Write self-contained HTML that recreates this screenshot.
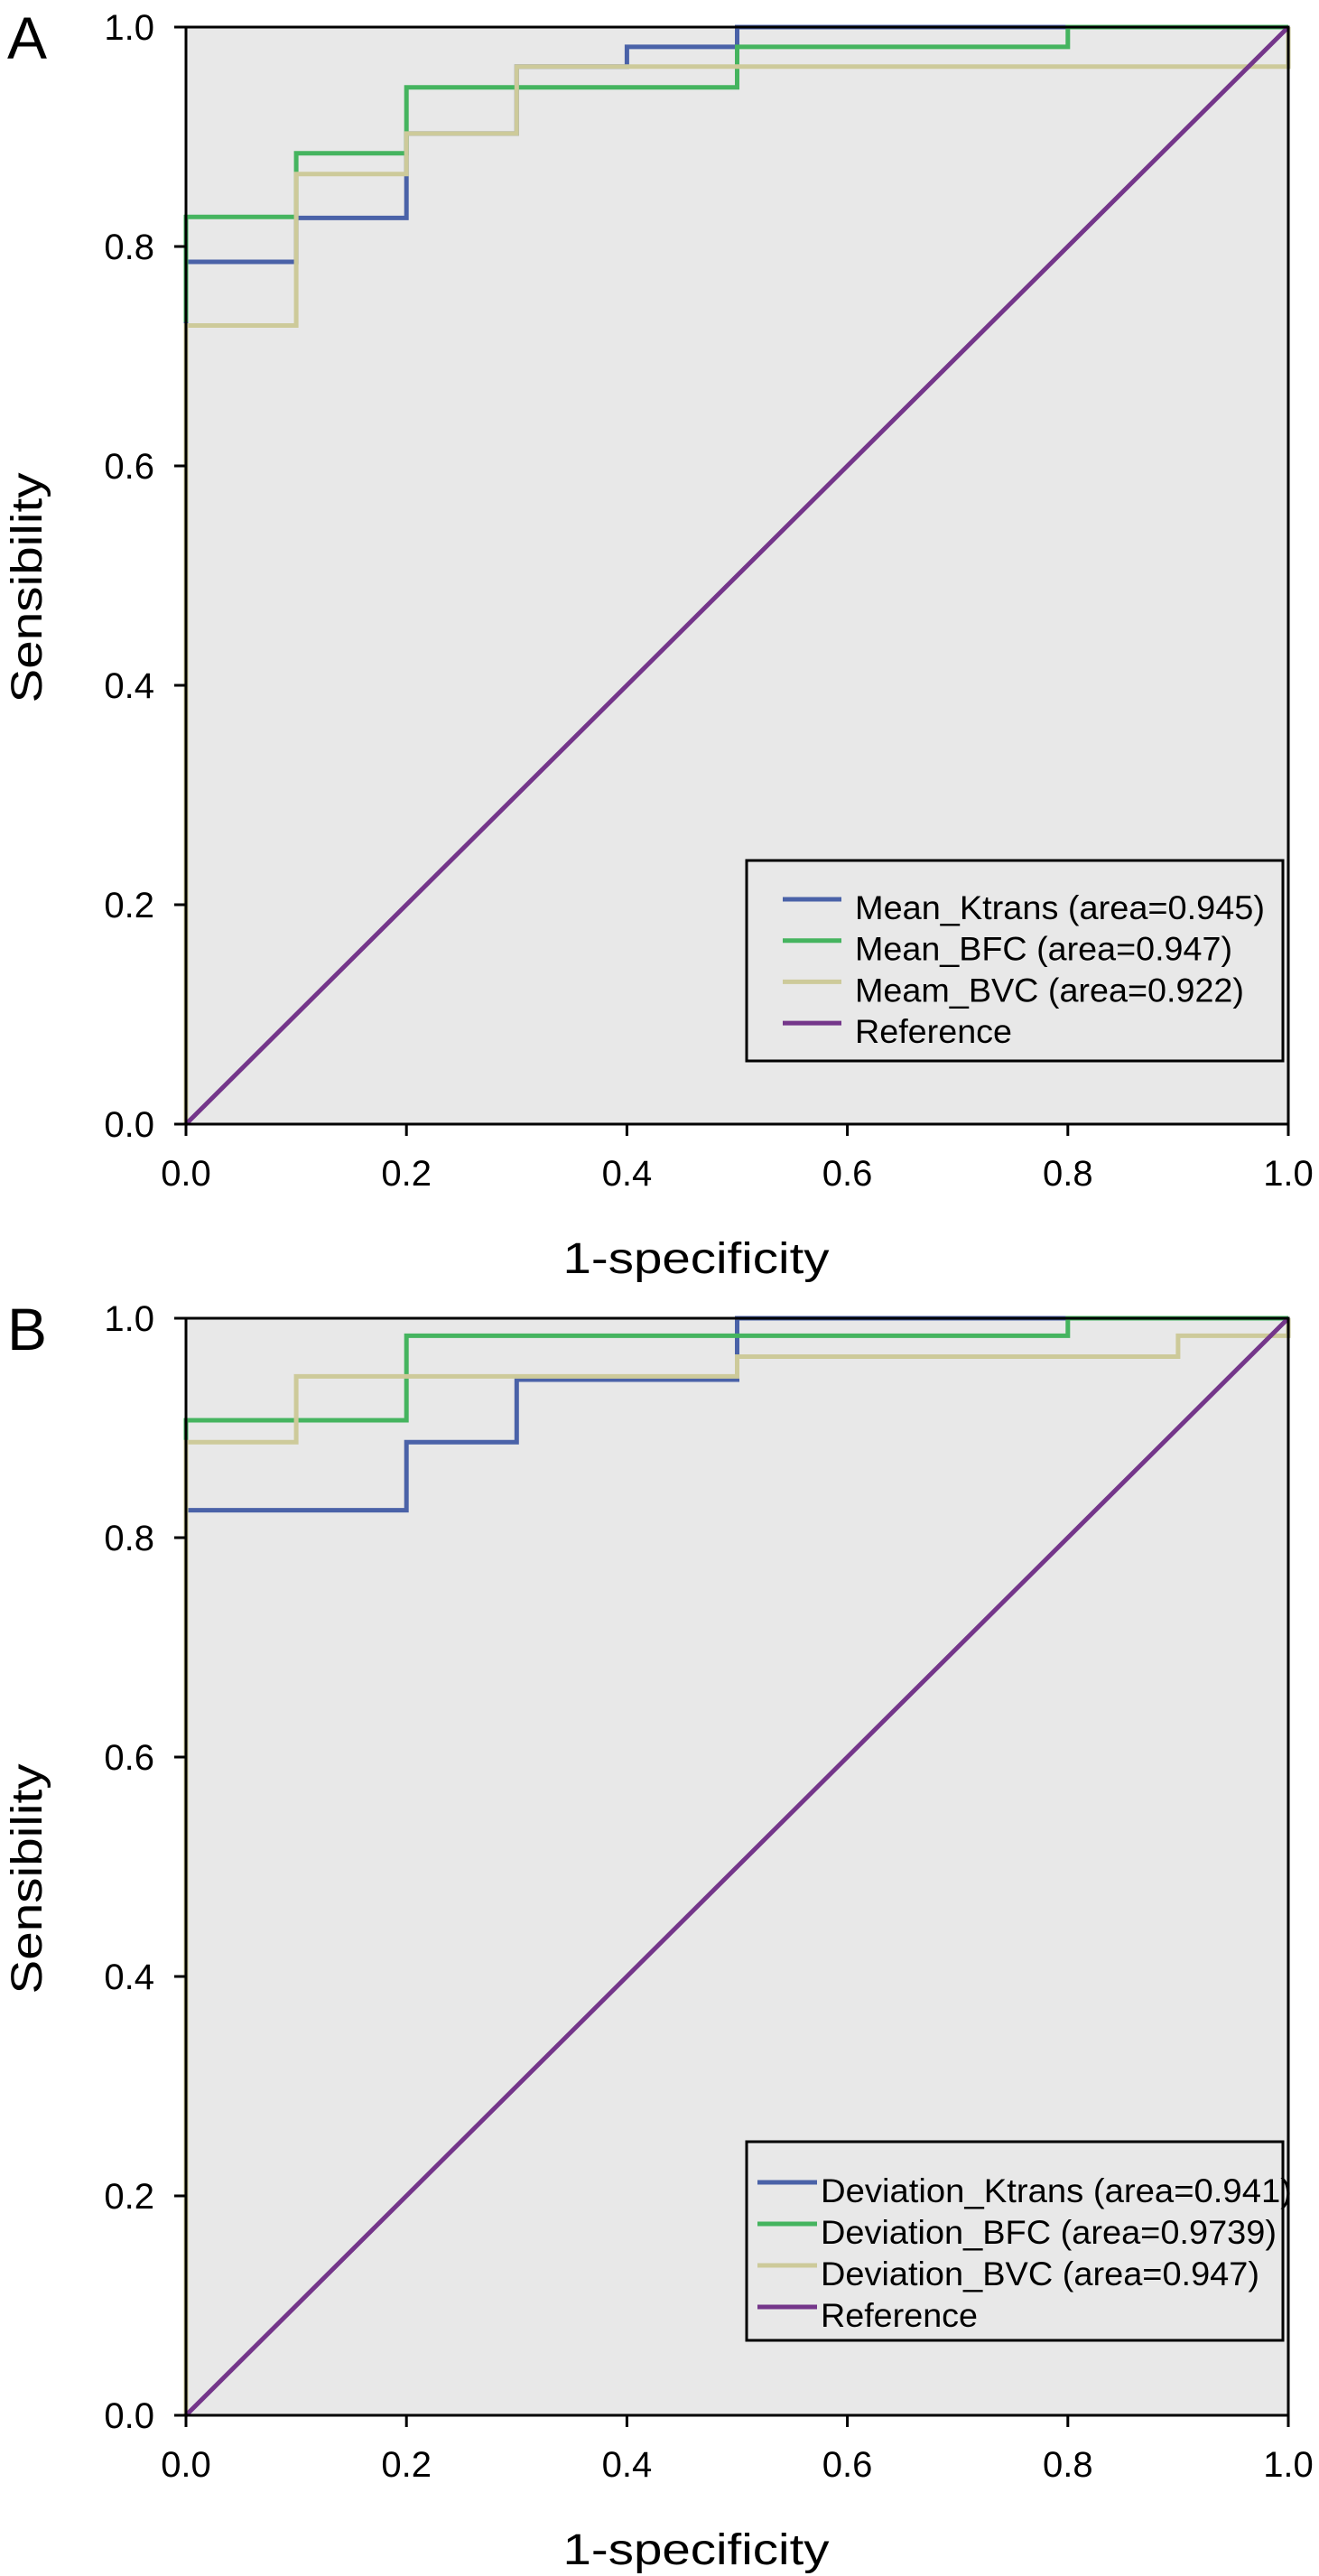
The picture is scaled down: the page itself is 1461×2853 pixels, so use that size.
<!DOCTYPE html>
<html><head><meta charset="utf-8"><style>
html,body{margin:0;padding:0;background:#fff;}
svg{display:block;font-family:"Liberation Sans",Arial,sans-serif;}
</style></head><body>
<svg id="fig" width="1461" height="2853" viewBox="0 0 1461 2853" xmlns="http://www.w3.org/2000/svg"></svg>
<script>
// ---- data ----
const xTicks = [0.0, 0.2, 0.4, 0.6, 0.8, 1.0];
const yTicks = [0.0, 0.2, 0.4, 0.6, 0.8, 1.0];
const tickLabels = ["0.0","0.2","0.4","0.6","0.8","1.0"];

const aKtransFpr = [0,0,0.1,0.1,0.2,0.2,0.3,0.3,0.4,0.4,0.5,0.5,1];
const aKtransTpr = [0,0.786,0.786,0.826,0.826,0.903,0.903,0.964,0.964,0.982,0.982,1,1];
const aBfcFpr = [0,0,0.1,0.1,0.2,0.2,0.5,0.5,0.8,0.8,1];
const aBfcTpr = [0.731,0.827,0.827,0.885,0.885,0.945,0.945,0.982,0.982,1,1];
const aBvcFpr = [0,0,0.1,0.1,0.2,0.2,0.3,0.3,1,1];
const aBvcTpr = [0,0.728,0.728,0.866,0.866,0.903,0.903,0.964,0.964,1];

const bKtransFpr = [0,0,0.2,0.2,0.3,0.3,0.5,0.5,1];
const bKtransTpr = [0,0.825,0.825,0.887,0.887,0.944,0.944,1,1];
const bBfcFpr = [0,0,0.2,0.2,0.8,0.8,1];
const bBfcTpr = [0.887,0.907,0.907,0.984,0.984,1,1];
const bBvcFpr = [0,0,0.1,0.1,0.5,0.5,0.9,0.9,1,1];
const bBvcTpr = [0,0.887,0.887,0.947,0.947,0.965,0.965,0.984,0.984,1];

const refFpr = [0,1];
const refTpr = [0,1];

const legendA = ["Mean_Ktrans (area=0.945)","Mean_BFC (area=0.947)","Meam_BVC (area=0.922)","Reference"];
const legendB = ["Deviation_Ktrans (area=0.941)","Deviation_BFC (area=0.9739)","Deviation_BVC (area=0.947)","Reference"];

const colors = ["#4a62a8","#45b45f","#cdca9a","#74368a"];
const NS = "http://www.w3.org/2000/svg";
const svg = document.getElementById("fig");
function mk(tag, attrs, parent){
  const e = document.createElementNS(NS, tag);
  for (const k in attrs) e.setAttribute(k, attrs[k]);
  (parent||svg).appendChild(e);
  return e;
}

function panel(letter, top, series, legendLabels, leg){
  const x0=206, x1=1427, y1=top, y0=top+1215;
  const sx = v => x0 + v*(x1-x0);
  const sy = v => y0 - v*(y0-y1);
  const g = mk("g",{});
  
  
  const bg = mk("rect",{x:x0,y:y1,width:x1-x0,height:y0-y1,fill:"#e8e8e8"},g);
  
  
  // series
  const names=["ktrans","bfc","bvc"];
  series.forEach((s,i)=>{
    const pts = s[0].map((f,j)=>sx(f).toFixed(1)+","+sy(s[1][j]).toFixed(1)).join(" ");
    const pl = mk("polyline",{points:pts,fill:"none",stroke:colors[i],"stroke-width":5,"stroke-linejoin":"miter"},g);
    
    
  });
  const ref = mk("polyline",{points:refFpr.map((f,j)=>sx(f)+","+sy(refTpr[j])).join(" "),fill:"none",stroke:colors[3],"stroke-width":5},g);
  
  
  // frame
  const fr = mk("path",{d:`M${x0},${y1}H${x1}V${y0}H${x0}Z`,fill:"none",stroke:"#000","stroke-width":3},g);
  
  
  // ticks
  yTicks.forEach((v,i)=>{
    const t = mk("line",{x1:x0-13,x2:x0,y1:sy(v),y2:sy(v),stroke:"#000","stroke-width":3},g);
    
    
    const tx = mk("text",{x:171,y:sy(v)+14,"font-size":40,"text-anchor":"end",fill:"#000"},g);
    tx.textContent = tickLabels[i];
    
    
  });
  xTicks.forEach((v,i)=>{
    const t = mk("line",{x1:sx(v),x2:sx(v),y1:y0,y2:y0+13,stroke:"#000","stroke-width":3},g);
    
    
    const tx = mk("text",{x:sx(v),y:y0+68,"font-size":40,"text-anchor":"middle",fill:"#000"},g);
    tx.textContent = tickLabels[i];
    
    
  });
  const xt = mk("text",{x:771,y:y0+165,"font-size":48,"text-anchor":"middle",fill:"#000",textLength:295,lengthAdjust:"spacingAndGlyphs"},g);
  xt.textContent = "1-specificity";
  
  
  const cy = top+621;
  const yt = mk("text",{x:0,y:0,"font-size":48,"text-anchor":"middle",fill:"#000",textLength:255,lengthAdjust:"spacingAndGlyphs",transform:`translate(46,${cy}) rotate(-90)`},g);
  yt.textContent = "Sensibility";
  
  
  const pl = mk("text",{x:8,y:top+35,"font-size":66,fill:"#000"},g);
  pl.textContent = letter;
  
  
  // legend
  const lg = mk("g",{},g);
  
  
  mk("rect",{x:827,y:leg.top,width:594,height:leg.h,fill:"#e8e8e8",stroke:"#000","stroke-width":3},lg);
  legendLabels.forEach((lab,i)=>{
    const by = leg.base + i*leg.step;
    const ln = mk("line",{x1:leg.lx1,x2:leg.lx2,y1:by-22,y2:by-22,stroke:colors[i],"stroke-width":5},lg);
    
    
    const t = mk("text",{x:leg.tx,y:by,"font-size":37,fill:"#000"},lg);
    if (leg.tl[i]) { t.setAttribute("textLength", leg.tl[i]); t.setAttribute("lengthAdjust","spacingAndGlyphs"); }
    t.textContent = lab;
    
    
  });
}

panel("A", 30, [[aKtransFpr,aKtransTpr],[aBfcFpr,aBfcTpr],[aBvcFpr,aBvcTpr]], legendA,
  {top:953,h:222,base:1018,step:45.7,lx1:867,lx2:932,tx:947,tl:[454,418,431,174]});
panel("B", 1460, [[bKtransFpr,bKtransTpr],[bBfcFpr,bBfcTpr],[bBvcFpr,bBvcTpr]], legendB,
  {top:2372,h:220,base:2439,step:46,lx1:839,lx2:905,tx:909,tl:[522,505,486,174]});
</script>
</body></html>
